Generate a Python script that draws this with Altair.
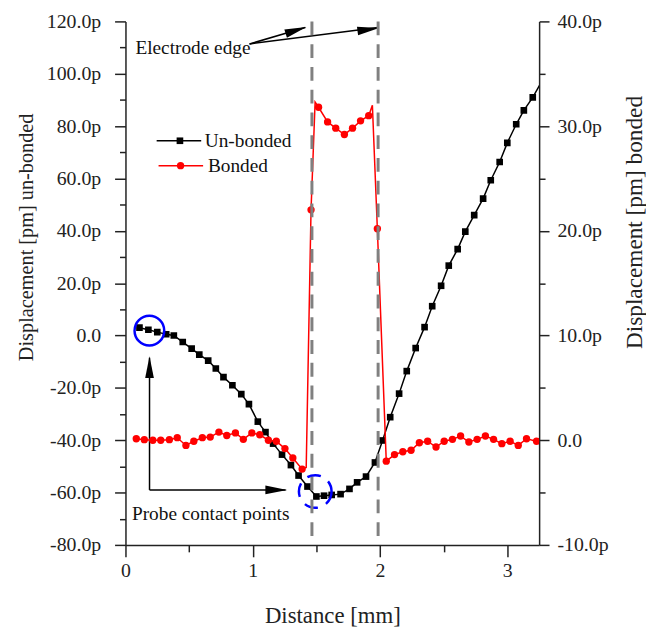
import altair as alt
import pandas as pd

FONT = "Liberation Serif"

# ---------------- data ----------------
# Un-bonded (black squares), left axis [pm]
unb_x = [0.11, 0.18, 0.25, 0.32, 0.38, 0.45, 0.52, 0.58, 0.65, 0.71, 0.77, 0.84,
         0.91, 0.97, 1.04, 1.10, 1.16, 1.23, 1.30, 1.36, 1.43, 1.50, 1.56, 1.62,
         1.69, 1.76, 1.82, 1.89, 1.96, 2.02, 2.08, 2.15, 2.21, 2.28, 2.35, 2.41,
         2.48, 2.54, 2.61, 2.67, 2.74, 2.81, 2.87, 2.94, 3.00, 3.07, 3.13, 3.20,
         3.27]
unb_y = [3.0, 2.2, 1.3, 0.5, 0.0, -2.5, -5.0, -7.3, -9.6, -12.6, -15.9, -19.0,
         -22.4, -26.2, -32.9, -36.9, -41.3, -45.5, -49.5, -53.5, -57.7, -61.5, -61.2, -60.9,
         -60.6, -58.6, -56.1, -53.9, -48.5, -40.1, -31.2, -22.2, -13.6, -4.8, 3.2, 11.2,
         19.0, 26.7, 33.0, 39.7, 46.0, 52.3, 59.3, 66.3, 73.6, 80.7, 86.0, 91.0,
         97.0]
unb_marker = [True] * 48 + [False]

# Bonded (red circles), right axis [pm]
bond_x = [0.085, 0.148, 0.215, 0.277, 0.345, 0.407, 0.475, 0.537, 0.604, 0.666,
          0.734, 0.796, 0.864, 0.926, 0.993, 1.055, 1.123, 1.185, 1.253, 1.315,
          1.388, 1.42, 1.458, 1.49, 1.517, 1.588, 1.652, 1.72, 1.784, 1.847,
          1.911, 1.94, 1.979, 2.049, 2.114, 2.179, 2.244, 2.309, 2.374, 2.44,
          2.504, 2.569, 2.633, 2.698, 2.763, 2.828, 2.892, 2.957, 3.022, 3.086,
          3.151, 3.23, 3.28]
bond_y = [0.14, 0.05, 0.0, 0.0, 0.05, 0.24, -0.5, -0.1, 0.24, 0.3,
          0.78, 0.45, 0.7, 0.08, 0.7, 0.52, 0.0, -0.1, -0.8, -1.7,
          -2.76, -2.6, 22.0, 32.3, 31.8, 30.4, 29.8, 29.2, 29.8, 30.5,
          31.0, 32.0, 20.2, -2.0, -1.37, -1.1, -0.96, -0.24, -0.1, -0.65,
          -0.1, 0.08, 0.4, -0.17, 0.08, 0.4, 0.08, -0.33, -0.1, -0.5,
          0.14, -0.1, -0.1]
bond_marker = [True] * 21 + [False, True, False] + [True] * 7 + [False] + [True] * 20 + [False]

edge_x = [1.465, 1.985]

x_ticks = [0, 0.5, 1, 1.5, 2, 2.5, 3]
left_ticks = [-80, -70, -60, -50, -40, -30, -20, -10, 0, 10, 20, 30, 40, 50, 60, 70, 80, 90, 100, 110, 120]
right_ticks = [-10, -5, 0, 5, 10, 15, 20, 25, 30, 35, 40]

# annotations (data units of the left axis)
texts = ["Electrode edge", "Probe contact points", "Un-bonded", "Bonded"]
text_x = [0.078, 0.051, 0.623, 0.648]
text_y = [107.6, -70.3, 72.1, 62.6]

arrow_x = [0.975, 0.975, 0.189, 0.189]
arrow_y = [111.4, 111.4, -59.0, -59.0]
arrow_x2 = [1.413, 1.984, 0.189, 1.258]
arrow_y2 = [117.7, 117.7, -8.5, -59.0]
head_x = [1.340, 1.908, 0.189, 1.185]
head_y = [116.6, 116.9, -12.1, -59.0]
head_angle = [72.4, 82.5, 0, 90]

ring_x = [0.188, 1.491]
ring_y = [1.85, -59.6]

leg_x = [0.245, 0.26]
leg_x2 = [0.595, 0.61]
leg_y = [74.4, 64.9]
leg_mx = [0.428, 0.433]
leg_color = ["black", "red"]

# ---------------- frames ----------------
df_unb = pd.DataFrame({"x": unb_x, "y": unb_y, "m": unb_marker})
df_bond = pd.DataFrame({"x": bond_x, "y": bond_y, "m": bond_marker})
df_edge = pd.DataFrame({"x": edge_x})
df_text = pd.DataFrame({"x": text_x, "y": text_y, "t": texts})
df_arrow = pd.DataFrame({"x": arrow_x, "y": arrow_y, "x2": arrow_x2, "y2": arrow_y2})
df_head = pd.DataFrame({"x": head_x, "y": head_y, "a": head_angle})
df_ring_solid = pd.DataFrame({"x": ring_x[:1], "y": ring_y[:1]})
df_ring_dash = pd.DataFrame({"x": ring_x[1:], "y": ring_y[1:]})
df_leg = pd.DataFrame({"x": leg_x, "x2": leg_x2, "y": leg_y, "mx": leg_mx, "c": leg_color})

# ---------------- scales & axes ----------------
xscale = alt.Scale(domain=[0, 3.25], nice=False, zero=False)
lscale = alt.Scale(domain=[-80, 120], nice=False, zero=False)
rscale = alt.Scale(domain=[-10, 40], nice=False, zero=False)

common = dict(grid=False, labelFlush=False, labelOverlap=False, domainColor="#222",
              tickColor="#222", domainWidth=1.5, tickWidth=1.5, labelFont=FONT,
              titleFont=FONT, labelFontSize=20, titleFontWeight="normal",
              labelColor="#222", titleColor="#222")

x_axis = alt.Axis(title="Distance [mm]", values=x_ticks,
                  labelExpr="datum.value % 1 === 0 ? format(datum.value, 'd') : ''",
                  tickSize={"condition": {"test": "datum.value % 1 === 0", "value": 12}, "value": 7},
                  labelPadding=4, titleFontSize=23, titleY=78, titleBaseline="alphabetic",
                  **common)
left_axis = alt.Axis(title="Displacement [pm] un-bonded", orient="left", values=left_ticks,
                     labelExpr="datum.value === 0 ? '0.0' : (datum.value % 20 === 0 ? (datum.value < 0 ? '-' : '') + format(abs(datum.value), '.1f') + 'p' : '')",
                     tickSize={"condition": {"test": "datum.value % 20 === 0", "value": 11}, "value": 6},
                     labelPadding=14, titleFontSize=20.5, titleAngle=270, titleX=-94,
                     titleY=217.7, titleBaseline="alphabetic", **common)
right_axis = alt.Axis(title="Displacement [pm] bonded", orient="right", values=right_ticks,
                      labelExpr="datum.value === 0 ? '0.0' : (datum.value % 10 === 0 ? (datum.value < 0 ? '-' : '') + format(abs(datum.value), '.1f') + 'p' : '')",
                      tickSize={"condition": {"test": "datum.value % 10 === 0", "value": 10}, "value": 6},
                      labelPadding=8, titleFontSize=23.5, titleAngle=270, titleX=103,
                      titleY=202.7, titleBaseline="alphabetic", **common)


def X():
    return alt.X("x:Q", scale=xscale, axis=x_axis)


def YL():
    return alt.Y("y:Q", scale=lscale, axis=left_axis)


def YR():
    return alt.Y("y:Q", scale=rscale, axis=right_axis)


# ---------------- left group ----------------
unb_line = alt.Chart(df_unb).mark_line(color="black", strokeWidth=1.5, clip=True).encode(x=X(), y=YL())
unb_pts = alt.Chart(df_unb).transform_filter("datum.m").mark_point(
    shape="square", filled=True, color="black", size=45, opacity=1, clip=True
).encode(x=X(), y=YL())

ring_solid = alt.Chart(df_ring_solid).mark_point(
    shape="circle", filled=False, color="#0000ff", strokeWidth=2.5, size=900, opacity=1
).encode(x=X(), y=YL())
ring_dash = alt.Chart(df_ring_dash).mark_point(
    shape="circle", filled=False, color="#0000ff", strokeWidth=2.5, size=1089, opacity=1,
    strokeDash=[14, 9]
).encode(x=X(), y=YL())

arrows = alt.Chart(df_arrow).mark_rule(color="black", strokeWidth=1.5).encode(
    x=X(), y=YL(), x2="x2:Q", y2="y2:Q")
heads = alt.Chart(df_head).mark_point(
    shape="M0,-1L0.4,1L-0.4,1Z", filled=True, color="black", size=484, opacity=1
).encode(x=X(), y=YL(), angle=alt.Angle("a:Q", scale=None))

leg_lines = alt.Chart(df_leg).mark_rule(strokeWidth=1.5).encode(
    x=X(), x2="x2:Q", y=YL(), color=alt.Color("c:N", scale=None))
leg_sq = alt.Chart(df_leg.iloc[:1]).mark_point(
    shape="square", filled=True, color="black", size=45, opacity=1
).encode(x=alt.X("mx:Q", scale=xscale, axis=x_axis), y=YL())
leg_ci = alt.Chart(df_leg.iloc[1:]).mark_point(
    shape="circle", filled=True, color="red", size=55, opacity=1
).encode(x=alt.X("mx:Q", scale=xscale, axis=x_axis), y=YL())

labels = alt.Chart(df_text).mark_text(
    align="left", baseline="alphabetic", font=FONT, fontSize=19.5, color="#111"
).encode(x=X(), y=YL(), text="t:N")

left = alt.layer(unb_line, unb_pts, ring_solid, ring_dash, arrows, heads,
                 leg_lines, leg_sq, leg_ci, labels)

# ---------------- right group ----------------
bond_line = alt.Chart(df_bond).mark_line(color="#ff0000", strokeWidth=1.5, clip=True).encode(x=X(), y=YR())
bond_pts = alt.Chart(df_bond).transform_filter("datum.m").mark_point(
    shape="circle", filled=True, color="#ff0000", size=55, opacity=1, clip=True
).encode(x=X(), y=YR())
edges = alt.Chart(df_edge).mark_rule(color="#808080", strokeWidth=3, strokeDash=[14, 9]).encode(x=X())

right = alt.layer(bond_line, bond_pts, edges)

chart = alt.layer(left, right).resolve_scale(y="independent").properties(
    width=418, height=529,
    autosize=alt.AutoSizeParams(type="none"),
    padding={"left": 118.7, "top": 10.3, "right": 108, "bottom": 80},
).configure(font=FONT).configure_axis(labelFont=FONT, titleFont=FONT).configure_view(stroke=None)

chart.save("out.html", embed_options={"renderer": "svg", "actions": False})
